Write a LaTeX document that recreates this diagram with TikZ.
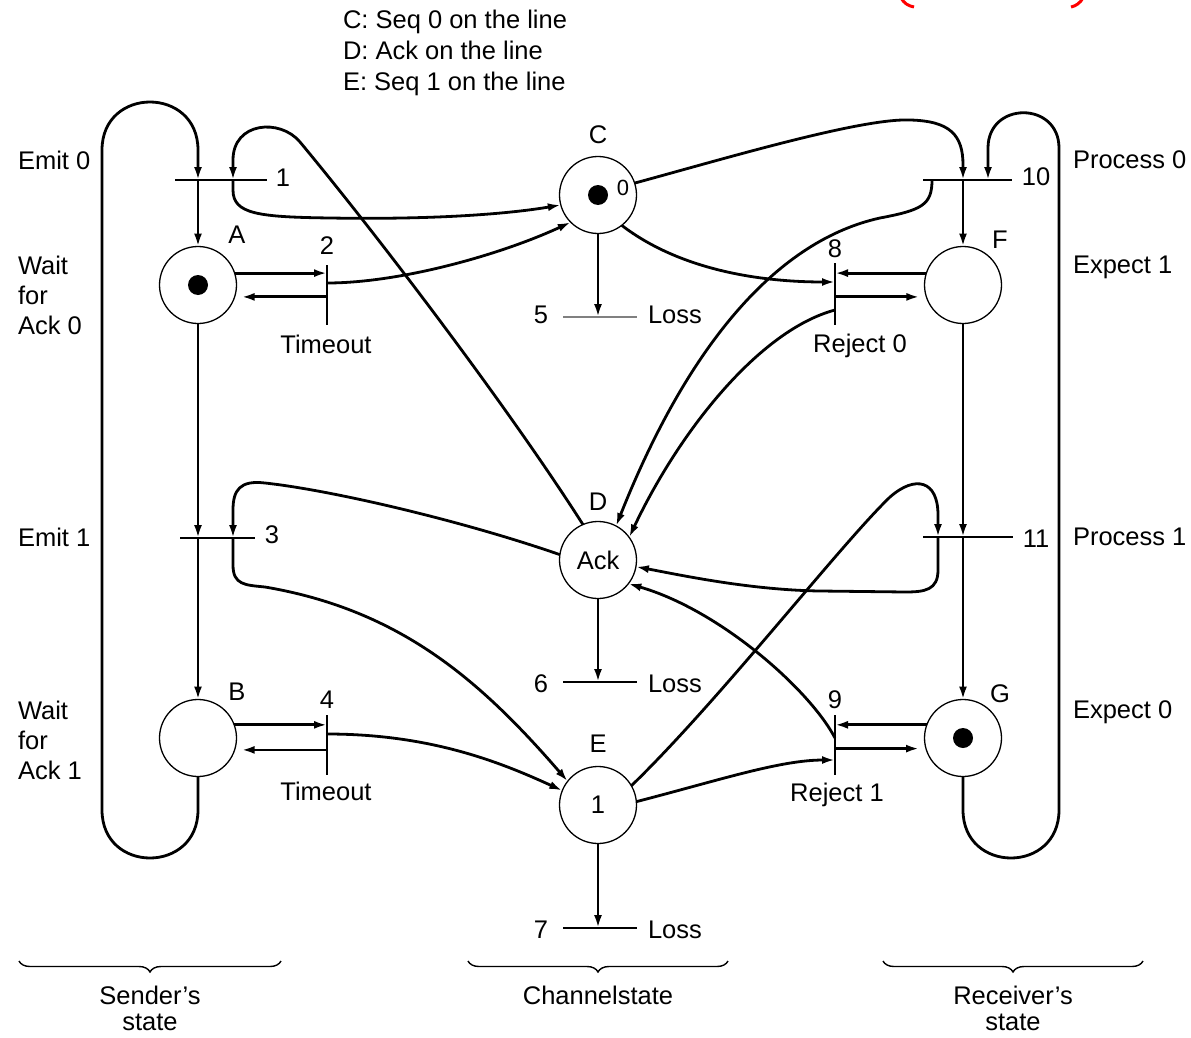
\documentclass[tikz,border=0pt]{standalone}
\usepackage{fontspec}
\setmainfont{Liberation Sans}
\usetikzlibrary{arrows.meta,decorations.pathreplacing}
\begin{document}
\begin{tikzpicture}[x=1pt,y=-1pt,
  every node/.style={inner sep=0pt, outer sep=0pt},
  lab/.style={font=\fontsize{25.5}{30}\selectfont, anchor=base},
  labw/.style={font=\fontsize{25.5}{30}\selectfont, anchor=base west},
  small/.style={font=\fontsize{22}{26}\selectfont, anchor=base},
  place/.style={circle, draw, line width=1.3pt, minimum size=77pt, font=\fontsize{25.5}{30}\selectfont},
  token/.style={circle, fill, minimum size=20pt},
  hbar/.style={minimum width=#1, minimum height=0pt},
  vbar/.style={minimum height=#1, minimum width=0pt},
  barline/.style={line width=1.4pt},
  flow/.style={line width=2.8pt, -{Latex[length=13pt,width=8pt]}},
  grouping/.style={line width=1.4pt, decorate, decoration={brace, mirror, amplitude=11pt}},
]
\useasboundingbox (0,0) rectangle (1191,1038);

% ---------- places ----------
\node[place] (A) at (198,285) {};
\node[token] (Atok) at (A) {};
\node[place] (B) at (198,738) {};
\node[place] (C) at (598,195) {};
\node[token] (Ctok) at (C) {};
\node[small] (Czero) at (623,195) {0};
\node[place] (D) at (598,560) {Ack};
\node[place] (E) at (598,805) {1};
\node[place] (F) at (963,285) {};
\node[place] (G) at (963,738) {};
\node[token] (Gtok) at (G) {};

% ---------- transitions ----------
\node[hbar=92pt] (t1) at (221,180) {};
\node[vbar=60pt] (t2) at (327,295) {};
\node[hbar=75pt] (t3) at (217.5,538) {};
\node[vbar=60pt] (t4) at (327,745) {};
\node[hbar=74pt] (t5) at (600,317) {};
\node[hbar=74pt] (t6) at (600,682) {};
\node[hbar=74pt] (t7) at (600,928) {};
\node[vbar=62pt] (t8) at (835,294) {};
\node[vbar=60pt] (t9) at (835,745) {};
\node[hbar=89pt] (t10) at (967.5,180) {};
\node[hbar=90pt] (t11) at (968,537) {};

\draw[barline] (t1.west) -- (t1.east);
\draw[barline] (t2.north) -- (t2.south);
\draw[barline] (t3.west) -- (t3.east);
\draw[barline] (t4.north) -- (t4.south);
\draw[barline, gray] (t5.west) -- (t5.east);
\draw[barline] (t6.west) -- (t6.east);
\draw[barline] (t7.west) -- (t7.east);
\draw[barline] (t8.north) -- (t8.south);
\draw[barline] (t9.north) -- (t9.south);
\draw[barline] (t10.west) -- (t10.east);
\draw[barline] (t11.west) -- (t11.east);

% attachment points on the bars
\coordinate (t1in) at (233,180);
\coordinate (t2out) at (327,283);
\coordinate (t3in) at (233,538);
\coordinate (t4out) at (327,734);
\coordinate (t8out) at (835,310);
\coordinate (t9out) at (835,738);
\coordinate (t10in) at (988,180);
\coordinate (t10out) at (932,180);
\coordinate (t11in) at (938,537);

% ---------- sender ----------
\draw[flow] (B.south) -- (198,810) .. controls (198,874) and (102,874) .. (102,810)
  -- (102,150) .. controls (102,86) and (198,86) .. (198,150) -- (A |- t1);
\draw[flow] (A |- t1) -- (A.north);
\draw[flow] (A.south) -- (A |- t3);
\draw[flow] (B |- t3) -- (B.north);

\draw[flow] (A.18) -- (A.18 -| t2);
\draw[flow, shorten >=7pt] (A.342 -| t2) -- (A.342);
\draw[flow] (B.20) -- (B.20 -| t4);
\draw[flow, shorten >=7pt] (B.342 -| t4) -- (B.342);

% Emit 0 puts Seq 0 on the line
\draw[flow] (t1in) -- (233,190) .. controls (233,214) and (258,217) .. (330,218)
  .. controls (450,220) and (520,212) .. (C.195);
% timeout resends Seq 0
\draw[flow] (t2out) .. controls (400,283) and (500,255) .. (C.225);
% Ack consumed by Emit 0
\draw[flow] (D.113) .. controls (512,413) and (383,242) .. (300,142)
  .. controls (280,118) and (233,122) .. (233,160) -- (t1in);

% Emit 1 puts Seq 1 on the line
\draw[flow] (D.172) .. controls (460,520) and (330,490) .. (265,483)
  .. controls (240,480) and (233,490) .. (233,510) -- (t3in);
\draw[flow] (t3in) -- (233,565) .. controls (233,585) and (245,585) .. (265,587)
  .. controls (400,610) and (480,680) .. (E.142);
% timeout resends Seq 1
\draw[flow] (t4out) .. controls (430,734) and (500,762) .. (E.158);

% ---------- channel losses ----------
\draw[flow] (C.south) -- (C |- t5);
\draw[flow] (D.south) -- (D |- t6);
\draw[flow] (E.south) -- (E |- t7);

% ---------- receiver ----------
\draw[flow] (G.south) -- (963,810) .. controls (963,874) and (1059,874) .. (1059,810)
  -- (1059,148) .. controls (1059,101) and (988,101) .. (988,148) -- (t10in);
\draw[flow] (C.18) .. controls (720,160) and (860,118) .. (910,120)
  .. controls (950,121) and (963,135) .. (963,165) -- (F |- t10);
\draw[flow] (F |- t10) -- (F.north);
\draw[flow] (F.south) -- (F |- t11);
\draw[flow] (G |- t11) -- (G.north);

\draw[flow] (F.162) -- (F.162 -| t8);
\draw[flow, shorten >=7pt] (F.198 -| t8) -- (F.198);
\draw[flow] (G.160) -- (G.160 -| t9);
\draw[flow, shorten >=7pt] (G.196 -| t9) -- (G.196);

% Process 0 sends Ack
\draw[flow] (t10out) .. controls (932,205) and (922,210) .. (880,218)
  .. controls (780,240) and (690,340) .. (D.62);
% Reject 0
\draw[flow] (C.308) .. controls (680,270) and (760,282) .. (t8 |- 0,282);
\draw[flow] (t8out) .. controls (760,330) and (680,430) .. (D.36);
% Process 1
\draw[flow] (E.30) .. controls (720,700) and (840,545) .. (890,497)
  .. controls (915,475) and (938,480) .. (938,515) -- (t11in);
\draw[flow] (t11in) -- (938,570) .. controls (938,590) and (925,592) .. (905,592)
  -- (820,591) .. controls (750,590) and (680,575) .. (D.350);
% Reject 1
\draw[flow] (E.5) .. controls (720,780) and (780,760) .. (t9 |- 0,760);
\draw[flow] (t9out) .. controls (810,690) and (720,610) .. (D.322);

% ---------- labels ----------
\node[labw] (lc) at (343,29) {C: Seq 0 on the line};
\node[labw] (ld) at (343,60) {D: Ack on the line};
\node[labw] (le) at (343,91) {E: Seq 1 on the line};

\node[labw] (emit0) at (18,169) {Emit 0};
\node[labw] (wait0a) at (18,274) {Wait};
\node[labw] (wait0b) at (18,304) {for};
\node[labw] (wait0c) at (18,334) {Ack 0};
\node[labw] (emit1) at (18,546) {Emit 1};
\node[labw] (wait1a) at (18,719) {Wait};
\node[labw] (wait1b) at (18,749) {for};
\node[labw] (wait1c) at (18,779) {Ack 1};

\node[labw] (proc0) at (1073,168) {Process 0};
\node[labw] (exp1) at (1073,273) {Expect 1};
\node[labw] (proc1) at (1073,545) {Process 1};
\node[labw] (exp0) at (1073,718) {Expect 0};

\node[lab] (lA) at (237,243) {A};
\node[lab] (lB) at (237,700) {B};
\node[lab] (lC) at (598,143) {C};
\node[lab] (lD) at (598,510) {D};
\node[lab] (lE) at (598,752) {E};
\node[lab] (lF) at (1000,248) {F};
\node[lab] (lG) at (1000,702) {G};

\node[lab] (n1) at (283,186) {1};
\node[lab] (n2) at (327,254) {2};
\node[lab] (n3) at (272,543) {3};
\node[lab] (n4) at (327,708) {4};
\node[lab] (n5) at (541,323) {5};
\node[lab] (n6) at (541,692) {6};
\node[lab] (n7) at (541,938) {7};
\node[lab] (n8) at (835,257) {8};
\node[lab] (n9) at (835,708) {9};
\node[lab] (n10) at (1036,185) {10};
\node[lab] (n11) at (1036,547) {11};

\node[lab] (to2) at (326,353) {Timeout};
\node[lab] (to4) at (326,800) {Timeout};
\node[lab] (rj0) at (860,352) {Reject 0};
\node[lab] (rj1) at (837,801) {Reject 1};
\node[labw] (loss5) at (648,323) {Loss};
\node[labw] (loss6) at (648,692) {Loss};
\node[labw] (loss7) at (648,938) {Loss};

% ---------- groupings ----------
\draw[grouping] (19,961) -- (281,961);
\draw[grouping] (468,961) -- (728,961);
\draw[grouping] (883,961) -- (1143,961);
\node[lab] (snd1) at (150,1004) {Sender's};
\node[lab] (snd2) at (150,1030) {state};
\node[lab] (chn) at (598,1004) {Channelstate};
\node[lab] (rcv1) at (1013,1004) {Receiver's};
\node[lab] (rcv2) at (1013,1030) {state};

% red marks along the top edge
\draw[red, line width=3pt] (901,-2) .. controls (904,3) and (908,6) .. (914,7);
\draw[red, line width=3pt] (1083,-2) .. controls (1080,3) and (1076,6) .. (1071,7);
\end{tikzpicture}
\end{document}
